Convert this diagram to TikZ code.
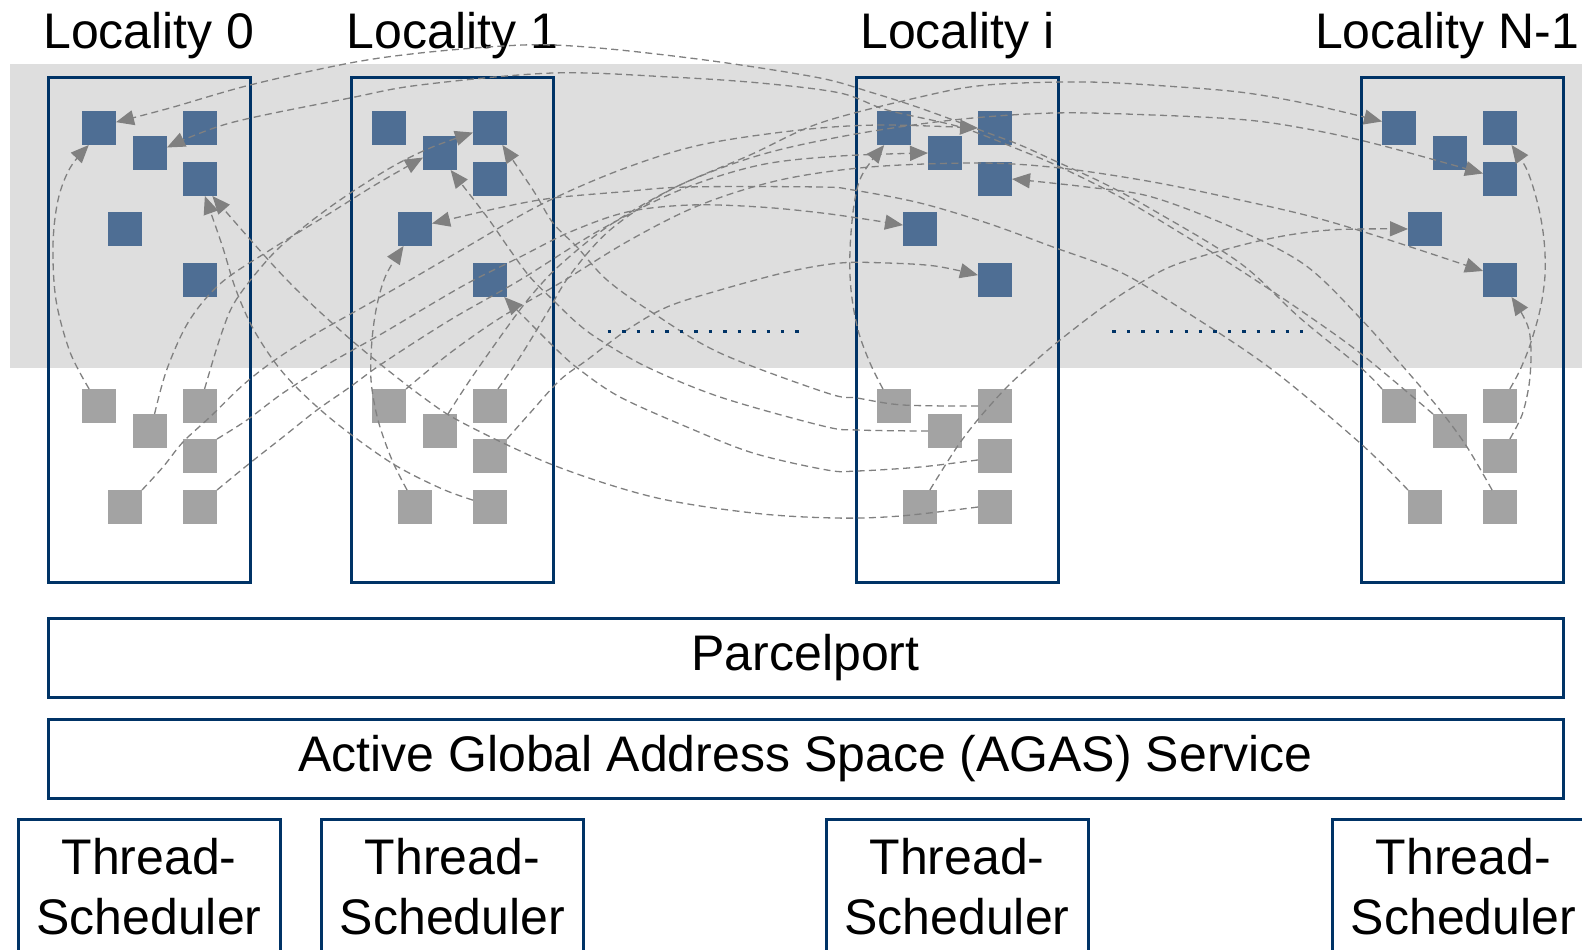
\documentclass[tikz,border=0pt]{standalone}
\usepackage{fontspec}
\setmainfont{Liberation Sans}
\usetikzlibrary{arrows.meta}
\definecolor{navy}{RGB}{0,51,102}
\definecolor{sqblue}{RGB}{78,110,148}
\definecolor{sqgray}{RGB}{163,163,163}
\definecolor{bandgray}{RGB}{222,222,222}
\definecolor{arrgray}{RGB}{128,128,128}
\begin{document}
\begin{tikzpicture}[x=0.5pt,y=-0.5pt,
  bsq/.style={fill=sqblue, minimum size=17pt, inner sep=0pt, outer sep=0pt},
  gsq/.style={fill=sqgray, minimum size=17pt, inner sep=0pt, outer sep=0pt},
  locbox/.style={draw=navy, line width=1.5pt, minimum width=101pt, minimum height=252.5pt, inner sep=0pt},
  layerbox/.style={draw=navy, line width=1.5pt, inner sep=0pt, minimum width=757.5pt, minimum height=39.5pt, font=\fontsize{25}{30}\selectfont},
  tsbox/.style={draw=navy, line width=1.5pt, inner sep=0pt, minimum width=131pt, minimum height=80.5pt},
  lbl/.style={font=\fontsize{25}{30}\selectfont, anchor=base, inner sep=0pt},
  conn/.style={draw=arrgray, line width=0.65pt, dash pattern=on 3.5pt off 2.2pt, -{Triangle[length=9pt,width=7.5pt]}},
  dotline/.style={draw=navy, line width=1.7pt, dash pattern=on 1.7pt off 5.52pt}
]
\clip (0,0) rectangle (1582,949);
\useasboundingbox (0,0) rectangle (1582,949);
\fill[bandgray] (10,64) rectangle (1582,368);

% locality boxes
\node[locbox] (loc0) at (149,329.5) {};
\node[locbox] (loc1) at (452.5,329.5) {};
\node[locbox] (loci) at (957.5,329.5) {};
\node[locbox] (locn) at (1462,329.5) {};

% titles
\node[lbl] (t0) at (149,48.5) {Locality 0};
\node[lbl] (t1) at (452.5,48.5) {Locality 1};
\node[lbl] (ti) at (957.5,48.5) {Locality i};
\node[lbl] (tn) at (1447,48.5) {Locality N-1};

% squares
\foreach \k/\L in {0/62,1/352,2/857,3/1362} {
  \foreach \j/\dx/\dy in {1/37/128,2/138/128,3/88/153,4/138/179,5/63/229,6/138/280}
    \node[bsq] (b\k-\j) at ({\L+\dx},\dy) {};
  \foreach \j/\dx/\dy in {1/37/406,2/88/431,3/138/406,4/138/456,5/63/507,6/138/507}
    \node[gsq] (g\k-\j) at ({\L+\dx},\dy) {};
}

% connectors
\draw[conn] plot[smooth,tension=0.55] coordinates {(g0-1.120) (70,352) (56,300) (53,245) (58,200) (70,168) (b0-1.239)};
\draw[conn] plot[smooth,tension=0.55] coordinates {(g0-2.75) (167,369) (189,321) (221,283) (270,250) (327,215) (375,185) (b1-3.195)};
\draw[conn] plot[smooth,tension=0.55] coordinates {(g0-3.75) (221,335) (236,300) (270,257) (300,230) (340,200) (390,168) (430,148) (b1-2.195)};
\draw[conn] plot[smooth,tension=0.55] coordinates {(g0-4.north east) (247,420) (283,393) (330,363) (383,333) (430,305) (470,282) (520,257) (570,232) (627,212) (690,205) (760,207) (830,214) (b2-5.167)};
\draw[conn] plot[smooth,tension=0.55] coordinates {(g0-5.north east) (163,467) (183,442) (210,417) (243,385) (275,360) (317,333) (363,307) (410,280) (470,245) (540,205) (620,170) (700,145) (800,130) (880,125) (b2-2.west)};
\draw[conn] plot[smooth,tension=0.55] coordinates {(g0-6.north east) (250,463) (283,437) (317,410) (350,387) (383,363) (450,320) (520,280) (600,230) (680,190) (760,165) (840,156) (b2-3.west)};
\draw[conn] plot[smooth,tension=0.55] coordinates {(g1-1.north east) (450,353) (500,318) (560,283) (630,240) (700,205) (780,180) (870,167) (980,163) (1060,168) (1153,182) (1240,200) (1313,217) (1380,237) (b3-6.152)};
\draw[conn] plot[smooth,tension=0.55] coordinates {(g1-2.65) (470,380) (503,333) (530,297) (560,265) (610,225) (680,185) (760,155) (850,135) (953,120) (1053,113) (1153,115) (1247,120) (1313,130) (1380,145) (b3-4.162)};
\draw[conn] plot[smooth,tension=0.55] coordinates {(g1-3.65) (520,357) (547,313) (570,275) (610,230) (670,190) (750,155) (820,123) (920,97) (987,85) (1087,82) (1180,87) (1247,93) (1313,105) (b3-1.159)};
\draw[conn] plot[smooth,tension=0.55] coordinates {(g1-4.north east) (530,413) (560,380) (587,360) (627,330) (667,307) (720,290) (787,272) (840,263) (887,263) (935,266) (b2-6.164)};
\draw[conn] plot[smooth,tension=0.55] coordinates {(g1-5.115) (392,460) (378,420) (371,380) (372,340) (377,305) (386,275) (b1-5.236)};
\draw[conn] plot[smooth,tension=0.55] coordinates {(g1-6.158) (440,488) (390,462) (330,418) (285,375) (255,332) (236,290) (222,245) (b0-4.286)};
\draw[conn] plot[smooth,tension=0.55] coordinates {(g2-1.123) (870,363) (858,330) (851,290) (850,250) (854,205) (862,175) (b2-1.240)};
\draw[conn] plot[smooth,tension=0.55] coordinates {(g2-2.west) (857,430) (823,426) (720,397) (647,367) (600,340) (577,323) (553,300) (530,277) (510,250) (487,217) (b1-3.-58)};
\draw[conn] plot[smooth,tension=0.55] coordinates {(g2-3.west) (903,405) (857,398) (827,393) (720,353) (653,313) (607,280) (577,247) (553,223) (533,190) (b1-2.-54)};
\draw[conn] plot[smooth,tension=0.55] coordinates {(g2-4.193) (920,467) (857,471) (827,470) (753,453) (687,427) (620,397) (580,370) (555,348) (b1-6.-50)};
\draw[conn] plot[smooth,tension=0.55] coordinates {(g2-5.60) (957,447) (980,417) (1007,387) (1033,363) (1060,340) (1103,307) (1140,283) (1180,263) (1263,240) (1330,230) (b3-5.west)};
\draw[conn] plot[smooth,tension=0.55] coordinates {(g2-6.west) (900,516) (835,518) (753,513) (653,497) (553,465) (463,423) (420,395) (363,350) (320,312) (287,280) (255,245) (b0-4.-54)};
\draw[conn] plot[smooth,tension=0.55] coordinates {(g3-1.north west) (1360,367) (1300,318) (1240,263) (1153,210) (1103,183) (1053,160) (1020,145) (980,130) (920,108) (870,92) (820,78) (720,62) (620,50) (553,45) (503,46) (420,53) (350,63) (250,85) (170,108) (b0-1.19)};
\draw[conn] plot[smooth,tension=0.55] coordinates {(g3-2.north west) (1360,353) (1300,310) (1240,270) (1187,237) (1120,197) (1060,167) (1020,150) (960,127) (887,110) (840,93) (760,83) (670,77) (553,73) (420,85) (350,98) (230,123) (b0-3.18)};
\draw[conn] plot[smooth,tension=0.55] coordinates {(g3-3.60) (1520,370) (1530,345) (1540,310) (1545,275) (1544,240) (1538,205) (1527,170) (b3-2.-56)};
\draw[conn] plot[smooth,tension=0.55] coordinates {(g3-4.60) (1522,415) (1529,385) (1531,355) (1529,330) (1521,312) (b3-6.-56)};
\draw[conn] plot[smooth,tension=0.55] coordinates {(g3-5.north west) (1360,443) (1270,368) (1180,308) (1120,272) (1053,247) (987,223) (920,203) (853,190) (820,187) (687,187) (620,192) (553,198) (503,207) (b1-5.18)};
\draw[conn] plot[smooth,tension=0.55] coordinates {(g3-6.115) (1467,447) (1440,410) (1406,370) (1360,318) (1305,265) (1236,229) (1152,197) (1087,187) (b2-4.east)};

% dotted ellipses
\coordinate (d1a) at (607.7,331.6);
\coordinate (d1b) at (798.6,331.6);
\coordinate (d2a) at (1112.3,331.6);
\coordinate (d2b) at (1303.3,331.6);
\draw[dotline] (d1a) -- (d1b);
\draw[dotline] (d2a) -- (d2b);

% layers
\node[layerbox] (pp) at (805.5,657.5) {Parcelport};
\node[layerbox] (agas) at (805.5,759) {Active Global Address Space (AGAS) Service};

% thread schedulers
\foreach \n/\cx in {0/149,1/452.5,2/957,3/1463.5} {
  \node[tsbox] (ts\n) at (\cx,899.5) {};
  \node[lbl] (tsa\n) at (\cx,874) {Thread-};
  \node[lbl] (tsb\n) at (\cx,934) {Scheduler};
}
\end{tikzpicture}
\end{document}
